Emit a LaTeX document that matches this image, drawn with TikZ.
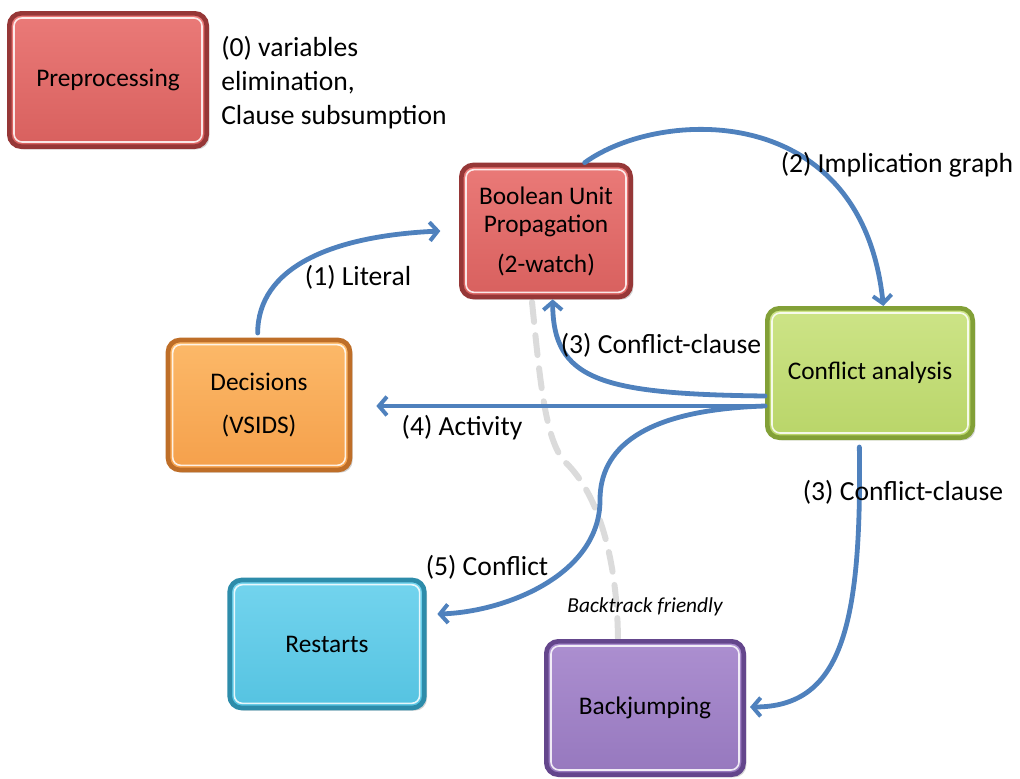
\documentclass[tikz,border=0pt]{standalone}
\usepackage{fontspec}
\setmainfont{Carlito}
\usetikzlibrary{arrows.meta,shadows}
\definecolor{arrowblue}{RGB}{79,129,189}
\definecolor{redF}{RGB}{234,122,120}\definecolor{redB}{RGB}{216,96,94}\definecolor{redD}{RGB}{150,55,55}
\definecolor{orgF}{RGB}{252,185,105}\definecolor{orgB}{RGB}{245,160,75}\definecolor{orgD}{RGB}{190,110,40}
\definecolor{grnF}{RGB}{205,228,135}\definecolor{grnB}{RGB}{185,213,105}\definecolor{grnD}{RGB}{130,160,55}
\definecolor{cyaF}{RGB}{115,212,238}\definecolor{cyaB}{RGB}{85,195,225}\definecolor{cyaD}{RGB}{45,140,170}
\definecolor{purF}{RGB}{172,143,208}\definecolor{purB}{RGB}{150,120,190}\definecolor{purD}{RGB}{100,70,140}
\tikzset{
  box/.style n args={3}{draw=#3, line width=3.5pt, top color=#1, bottom color=#2,
    rounded corners=9pt, align=center, font=\fontsize{19}{21}\selectfont,
    drop shadow={shadow xshift=2pt, shadow yshift=-2pt, opacity=0.35},
    path picture={\draw[white,line width=1.2pt,opacity=0.85,rounded corners=6pt]
      ([shift={(3.5pt,-3.5pt)}]path picture bounding box.north west) rectangle
      ([shift={(-3.5pt,3.5pt)}]path picture bounding box.south east);}},
  conn/.style={arrowblue, line width=3.6pt, line cap=round},
  tip/.style={-{Straight Barb[length=6pt,width=14pt,line width=3pt]}},
  lbl/.style={font=\fontsize{20.7}{25.5}\selectfont, inner sep=0pt},
  graydash/.style={gray!28, line width=4.5pt, dash pattern=on 15pt off 10pt, line cap=round}
}
\begin{document}
\begin{tikzpicture}[x=0.75pt,y=-0.75pt]
\useasboundingbox (0,0) rectangle (1020,778);
% dashed gray line (behind)
\coordinate (gs) at (532,302);
\coordinate (ge) at (618,640);
\draw[graydash] (gs) .. controls (540,380) and (545,440) .. (565,462) .. controls (590,485) and (617,540) .. (ge);
% boxes
\node[box={redF}{redB}{redD}, minimum width=148pt, minimum height=100pt] (pre) at (108,80) {Preprocessing};
\node[box={redF}{redB}{redD}, minimum width=127pt, minimum height=99pt] (bup) at (546,231) {Boolean Unit\\Propagation\\[9pt](2-watch)};
\node[box={orgF}{orgB}{orgD}, minimum width=136.5pt, minimum height=97.5pt] (dec) at (259,405) {Decisions\\[11pt](VSIDS)};
\node[box={grnF}{grnB}{grnD}, minimum width=154pt, minimum height=97pt] (ca) at (870,373) {Conflict analysis};
\node[box={cyaF}{cyaB}{cyaD}, minimum width=146pt, minimum height=96pt] (rst) at (327,644) {Restarts};
\node[box={purF}{purB}{purD}, minimum width=148pt, minimum height=100pt] (bj) at (645,708) {Backjumping};
% labels
\node[lbl, anchor=north west, align=left] (l0) at (221,36) {(0) variables\\elimination,\\Clause subsumption};
% connectors
\draw[conn,tip] ([xshift=-1pt]dec.north |- 0,333) .. controls (258,268) and (330,236) .. ([xshift=-14pt]bup.west);
\draw[conn,tip] ([xshift=29pt]bup.north) .. controls (660,108) and (862,100) .. ([xshift=10pt]ca.north);
\draw[conn,tip] (ca.west |- 0,396) .. controls (600,394) and (553,380) .. ([xshift=5pt]bup.south);
\draw[conn,tip] (ca.west |- 0,406) -- ([xshift=18pt]dec.east |- 0,406);
\draw[conn,tip] (ca.west |- 0,406) .. controls (640,410) and (600,450) .. (600,500) .. controls (600,575) and (505,612) .. ([xshift=8pt]rst.east |- 0,614);
\draw[conn,tip] ([xshift=-8pt]ca.south |- 0,447) .. controls (862,630) and (840,707) .. ([xshift=3pt]bj.east |- 0,707);
\node[lbl] (l1) at (358,277) {(1) Literal};
\node[lbl] (l2) at (897,165) {(2) Implication graph};
\node[lbl] (l3a) at (661,345) {(3) Conflict-clause};
\node[lbl] (l4) at (462,428) {(4) Activity};
\node[lbl] (l5) at (487,567) {(5) Conflict};
\node[lbl] (l3b) at (903,492) {(3) Conflict-clause};
\node[font=\fontsize{16}{18}\selectfont\itshape, inner sep=0pt] (bt) at (645,607) {Backtrack friendly};
\end{tikzpicture}
\end{document}
